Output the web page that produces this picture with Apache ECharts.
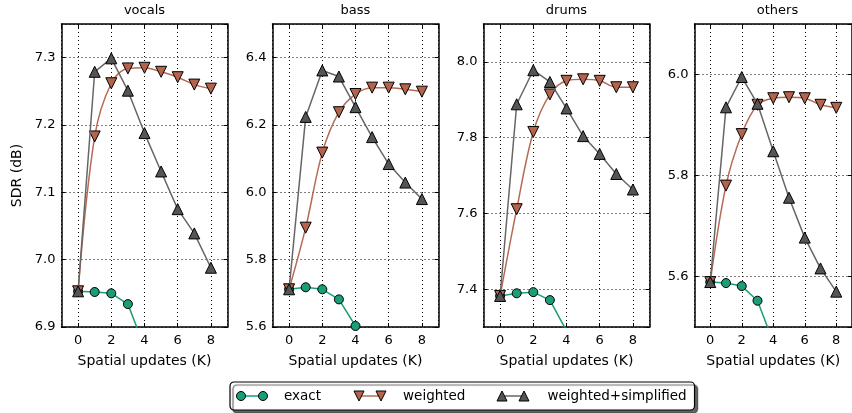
<!DOCTYPE html>
<html><head><meta charset="utf-8">
<script src="https://cdn.jsdelivr.net/npm/echarts@6/dist/echarts.min.js"></script>
<style>html,body{margin:0;padding:0;background:#fff}#c{width:852px;height:413px}</style>
</head><body><div id="c"></div>
<script>
// ---- data ----
const kValues = [0, 1, 2, 3, 4, 5, 6, 7, 8];
const panelTitles = ['vocals', 'bass', 'drums', 'others'];
const seriesNames = ['exact', 'weighted', 'weighted+simplified'];

const vocalsExact      = [6.953, 6.952, 6.950, 6.934, 6.870, 6.800, 6.720, 6.640, 6.560];
const vocalsWeighted   = [6.953, 7.183, 7.262, 7.284, 7.285, 7.279, 7.271, 7.260, 7.254];
const vocalsSimplified = [6.953, 7.279, 7.299, 7.251, 7.188, 7.131, 7.075, 7.039, 6.988];

const bassExact      = [5.712, 5.718, 5.712, 5.682, 5.603, 5.500, 5.400, 5.300, 5.200];
const bassWeighted   = [5.712, 5.895, 6.118, 6.238, 6.292, 6.311, 6.311, 6.306, 6.299];
const bassSimplified = [5.712, 6.224, 6.362, 6.344, 6.253, 6.164, 6.084, 6.029, 5.980];

const drumsExact      = [7.382, 7.389, 7.392, 7.371, 7.290, 7.200, 7.100, 7.000, 6.900];
const drumsWeighted   = [7.382, 7.611, 7.815, 7.914, 7.950, 7.954, 7.950, 7.933, 7.933];
const drumsSimplified = [7.382, 7.888, 7.978, 7.947, 7.877, 7.804, 7.757, 7.704, 7.663];

const othersExact      = [5.589, 5.587, 5.581, 5.552, 5.470, 5.380, 5.290, 5.200, 5.110];
const othersWeighted   = [5.589, 5.780, 5.882, 5.940, 5.953, 5.955, 5.953, 5.940, 5.934];
const othersSimplified = [5.589, 5.935, 5.995, 5.942, 5.848, 5.756, 5.677, 5.616, 5.570];

const panelData = [
  [vocalsExact, vocalsWeighted, vocalsSimplified],
  [bassExact, bassWeighted, bassSimplified],
  [drumsExact, drumsWeighted, drumsSimplified],
  [othersExact, othersWeighted, othersSimplified]
];

// ---- layout / style ----
const FONT = 'DejaVu Sans';
const lefts = [61.5, 272.5, 483.5, 694.5];
const W = 166, TOP = 24, H = 303;
const yCfg = [
  {min: 6.9, max: 7.35, interval: 0.1, showMin: true},
  {min: 5.6, max: 6.5, interval: 0.2, showMin: true},
  {min: 7.3, max: 8.1, splitNumber: 4, showMin: false},
  {min: 5.5, max: 6.1, splitNumber: 3, showMin: false}
];
const styles = [
  {symbol: 'circle', size: 9, rot: 0, fill: '#1b9e77', line: '#1b9e77', smooth: 0},
  {symbol: 'triangle', size: 11, rot: 180, fill: '#b4644c', line: '#b56b53', smooth: 0.35},
  {symbol: 'triangle', size: 11, rot: 0, fill: '#555555', line: '#666666', smooth: 0}
];

const grids = [], xAxes = [], yAxes = [], series = [], titles = [];
const axLine = {show: true, onZero: false, lineStyle: {color: '#000', width: 1.5}};
const tick = {show: true, inside: true, length: 4, lineStyle: {color: '#000', width: 1}};
const split = {show: true, lineStyle: {color: '#000', width: 1, type: [1, 3]}};
const lbl = {color: '#000', fontFamily: FONT, fontSize: 13};

panelTitles.forEach((t, i) => {
  grids.push({left: lefts[i], top: TOP, width: W, height: H});
  titles.push({text: t, left: lefts[i] + W / 2, top: 4, textAlign: 'center', padding: 0,
    textStyle: {fontFamily: FONT, fontSize: 13, fontWeight: 'normal', color: '#000'}});
  xAxes.push({gridIndex: i, type: 'value', position: 'bottom', min: -1, max: 9, splitNumber: 5,
    axisLine: axLine, axisTick: tick, splitLine: split,
    axisLabel: Object.assign({showMinLabel: false, showMaxLabel: false, margin: 7}, lbl),
    name: 'Spatial updates (K)', nameLocation: 'middle', nameGap: 27,
    nameTextStyle: {fontFamily: FONT, fontSize: 14, color: '#000'}});
  xAxes.push({gridIndex: i, type: 'value', position: 'top', min: -1, max: 9, splitNumber: 5,
    axisLine: axLine, axisTick: tick, axisLabel: {show: false}, splitLine: {show: false}});
  const c = yCfg[i];
  const yBase = {gridIndex: i, type: 'value', min: c.min, max: c.max, scale: true};
  if (c.interval) yBase.interval = c.interval; else yBase.splitNumber = c.splitNumber;
  const yl = Object.assign({position: 'left', axisLine: axLine, axisTick: tick, splitLine: split,
    axisLabel: Object.assign({showMinLabel: c.showMin, showMaxLabel: false, margin: 6,
      formatter: v => v.toFixed(1)}, lbl)}, yBase);
  if (i === 0) {
    yl.name = 'SDR (dB)'; yl.nameLocation = 'middle'; yl.nameGap = 37;
    yl.nameTextStyle = {fontFamily: FONT, fontSize: 14, color: '#000'};
  }
  yAxes.push(yl);
  yAxes.push(Object.assign({position: 'right', axisLine: axLine, axisTick: tick,
    axisLabel: {show: false}, splitLine: {show: false}}, yBase));
  panelData[i].forEach((vals, s) => {
    const st = styles[s];
    series.push({
      name: seriesNames[s], type: 'line', xAxisIndex: 2 * i, yAxisIndex: 2 * i,
      data: kValues.map((k, j) => [k, vals[j]]),
      smooth: st.smooth, clip: true, symbol: st.symbol, symbolSize: st.size, symbolRotate: st.rot,
      showAllSymbol: true,
      lineStyle: {color: st.line, width: 1.5},
      itemStyle: {color: st.fill, borderColor: '#000', borderWidth: 1},
      emphasis: {disabled: true}, animation: false, z: 2 + s
    });
  });
});

// legend icons in matplotlib style (line with a marker at each end)
const legendIconLefts = [236, 354, 497];
const ICON_W = 32, ICON_Y = 396;
const graphics = [];
styles.forEach((st, s) => {
  const x0 = legendIconLefts[s] + 5, x1 = legendIconLefts[s] + ICON_W - 5;
  graphics.push({type: 'line', z: 100, shape: {x1: x0, y1: ICON_Y, x2: x1, y2: ICON_Y},
    style: {stroke: st.line, lineWidth: 1.5}});
  [x0, x1].forEach(cx => {
    if (st.symbol === 'circle') {
      graphics.push({type: 'circle', z: 101, shape: {cx: cx, cy: ICON_Y, r: 4.5},
        style: {fill: st.fill, stroke: '#000', lineWidth: 1}});
    } else {
      const h = 10, w = 10;
      const pts = st.rot === 180
        ? [[cx - w / 2, ICON_Y - h / 2], [cx + w / 2, ICON_Y - h / 2], [cx, ICON_Y + h / 2]]
        : [[cx - w / 2, ICON_Y + h / 2], [cx + w / 2, ICON_Y + h / 2], [cx, ICON_Y - h / 2]];
      graphics.push({type: 'polygon', z: 101, shape: {points: pts},
        style: {fill: st.fill, stroke: '#000', lineWidth: 1}});
    }
  });
});

const chart = echarts.init(document.getElementById('c'), null, {renderer: 'canvas'});
chart.setOption({
  backgroundColor: '#fff',
  animation: false,
  title: titles,
  grid: grids,
  xAxis: xAxes,
  yAxis: yAxes,
  legend: {
    data: seriesNames.map(n => ({name: n, itemStyle: {opacity: 0}, lineStyle: {opacity: 0}})),
    left: 230, top: 382, orient: 'horizontal',
    padding: [7, 8, 7, 6], itemGap: 34, itemWidth: ICON_W, itemHeight: 11,
    borderColor: '#000', borderWidth: 1.2, borderRadius: 4, backgroundColor: '#fff',
    shadowColor: 'rgba(0,0,0,0.6)', shadowOffsetX: 3, shadowOffsetY: 3, shadowBlur: 1,
    textStyle: {fontFamily: FONT, fontSize: 13.5, color: '#000', padding: [0, 0, 0, 10]},
    selectedMode: false
  },
  graphic: graphics,
  series: series
});
</script>
</body></html>
